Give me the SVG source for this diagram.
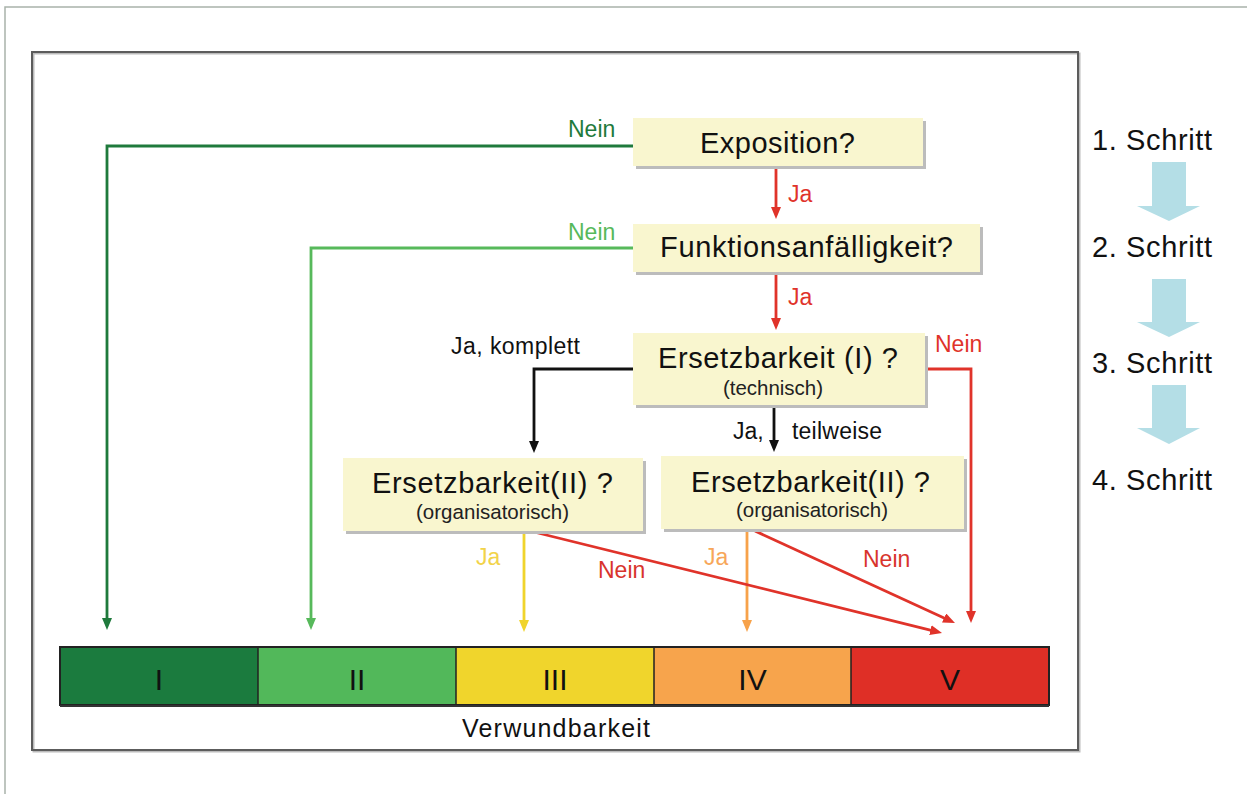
<svg xmlns="http://www.w3.org/2000/svg" width="1247" height="794" viewBox="0 0 1247 794">
<style>
text{font-family:"Liberation Sans",Arial,sans-serif;}
.box{fill:#f9f6cf;}
.sh{fill:#bcbcbc;}
.t1{font-size:29px;fill:#111;text-anchor:middle;}
.t2{font-size:20.5px;fill:#222;text-anchor:middle;}
.lb{font-size:23px;}
.c{fill:none;stroke-width:2.8;}
.step{font-size:29px;fill:#111;}
.rn{font-size:30px;fill:#111;text-anchor:middle;}
</style>
<defs>
<marker id="mDG" markerUnits="userSpaceOnUse" markerWidth="13" markerHeight="11" refX="3" refY="5" orient="auto"><path d="M0,0 L12,5 L0,10 z" fill="#1f7a3c"/></marker>
<marker id="mLG" markerUnits="userSpaceOnUse" markerWidth="13" markerHeight="11" refX="3" refY="5" orient="auto"><path d="M0,0 L12,5 L0,10 z" fill="#57b95b"/></marker>
<marker id="mR" markerUnits="userSpaceOnUse" markerWidth="13" markerHeight="11" refX="3" refY="5" orient="auto"><path d="M0,0 L12,5 L0,10 z" fill="#e0332a"/></marker>
<marker id="mK" markerUnits="userSpaceOnUse" markerWidth="13" markerHeight="11" refX="3" refY="5" orient="auto"><path d="M0,0 L12,5 L0,10 z" fill="#111"/></marker>
<marker id="mY" markerUnits="userSpaceOnUse" markerWidth="13" markerHeight="11" refX="3" refY="5" orient="auto"><path d="M0,0 L12,5 L0,10 z" fill="#f0d42c"/></marker>
<marker id="mO" markerUnits="userSpaceOnUse" markerWidth="13" markerHeight="11" refX="3" refY="5" orient="auto"><path d="M0,0 L12,5 L0,10 z" fill="#f7a24a"/></marker>
</defs>
<rect width="1247" height="794" fill="#fff"/>
<g id="outer-frame">
<path d="M5,794 V7 H1247" fill="none" stroke="#a9b3ab" stroke-width="1.5"/>
</g>
<g id="inner-frame">
<rect x="33.5" y="53.5" width="1046" height="698" fill="none" stroke="#bbb" stroke-width="2"/>
<rect x="32" y="52" width="1046" height="698" fill="none" stroke="#5c5c5c" stroke-width="2"/>
</g>
<g id="connectors">
<path class="c" d="M633,146 H107 V621" stroke="#1f7a3c" marker-end="url(#mDG)"/>
<path class="c" d="M633,248 H311 V621" stroke="#57b95b" marker-end="url(#mLG)"/>
<path class="c" d="M776,168 V210" stroke="#e0332a" marker-end="url(#mR)"/>
<path class="c" d="M776,274 V321" stroke="#e0332a" marker-end="url(#mR)"/>
<path class="c" d="M633,369 H534 V444" stroke="#111" stroke-width="3.2" marker-end="url(#mK)"/>
<path class="c" d="M774,407 V443" stroke="#111" stroke-width="3.2" marker-end="url(#mK)"/>
<path class="c" d="M925,369 H971 V614" stroke="#e0332a" marker-end="url(#mR)"/>
<path class="c" d="M524,531 V623" stroke="#f0d42c" marker-end="url(#mY)"/>
<path class="c" d="M747,530 V623" stroke="#f7a24a" marker-end="url(#mO)"/>
<path class="c" d="M530,531 L933.3,630.8" stroke="#e0332a" marker-end="url(#mR)"/>
<path class="c" d="M755,531 L946.8,619.2" stroke="#e0332a" marker-end="url(#mR)"/>
<text class="lb" x="568" y="137" fill="#1f7a3c">Nein</text>
<text class="lb" x="568" y="240" fill="#57b95b">Nein</text>
<text class="lb" x="788" y="202" fill="#e0332a">Ja</text>
<text class="lb" x="788" y="305" fill="#e0332a">Ja</text>
<text class="lb" x="451" y="354" fill="#111" font-size="22" textLength="129">Ja, komplett</text>
<text class="lb" x="935" y="352" fill="#e0332a">Nein</text>
<text class="lb" x="733" y="439" fill="#111" font-size="22">Ja,</text>
<text class="lb" x="792" y="439" fill="#111" font-size="22" textLength="90">teilweise</text>
<text class="lb" x="476" y="565" fill="#f2d34a">Ja</text>
<text class="lb" x="704" y="565" fill="#f7a75a">Ja</text>
<text class="lb" x="598" y="578" fill="#d8342c">Nein</text>
<text class="lb" x="863" y="567" fill="#d8342c">Nein</text>
</g>
<g id="n-exposition">
<rect class="sh" x="636" y="121" width="290" height="48"/>
<rect class="box" x="633" y="118" width="290" height="48"/>
<text class="t1" x="777.5" y="153" textLength="155">Exposition?</text>
</g>
<g id="n-funktion">
<rect class="sh" x="636" y="227" width="347" height="48"/>
<rect class="box" x="633" y="224" width="347" height="48"/>
<text class="t1" x="806.5" y="257" textLength="293">Funktionsanfälligkeit?</text>
</g>
<g id="n-ersetz1">
<rect class="sh" x="636" y="336" width="292" height="72"/>
<rect class="box" x="633" y="333" width="292" height="72"/>
<text class="t1" x="778" y="368" textLength="240">Ersetzbarkeit (I) ?</text>
<text class="t2" x="773" y="395" textLength="100">(technisch)</text>
</g>
<g id="n-ersetz2-left">
<rect class="sh" x="346" y="461" width="300" height="73"/>
<rect class="box" x="343" y="458" width="300" height="73"/>
<text class="t1" x="492.5" y="493" textLength="241">Ersetzbarkeit(II) ?</text>
<text class="t2" x="492.5" y="519" textLength="153">(organisatorisch)</text>
</g>
<g id="n-ersetz2-right">
<rect class="sh" x="664" y="459" width="303" height="73"/>
<rect class="box" x="661" y="456" width="303" height="73"/>
<text class="t1" x="810.5" y="492" textLength="239">Ersetzbarkeit(II) ?</text>
<text class="t2" x="812" y="517" textLength="152">(organisatorisch)</text>
</g>
<g id="scale">
<rect x="60" y="647" width="198" height="58" fill="#1b7b3e"/>
<rect x="258" y="647" width="198" height="58" fill="#52b85a"/>
<rect x="456" y="647" width="198" height="58" fill="#f0d52c"/>
<rect x="654" y="647" width="197" height="58" fill="#f7a44c"/>
<rect x="851" y="647" width="198" height="58" fill="#df2f26"/>
<path d="M258,647 V705 M456,647 V705 M654,647 V705 M851,647 V705" stroke="#222" stroke-width="1.5"/>
<rect x="60" y="647" width="989" height="58" fill="none" stroke="#222" stroke-width="2"/>
<path d="M60,706 H1049" stroke="#333" stroke-width="2"/>
<text class="rn" x="159" y="690">I</text>
<text class="rn" x="357" y="690">II</text>
<text class="rn" x="555" y="690">III</text>
<text class="rn" x="752.5" y="690">IV</text>
<text class="rn" x="950" y="690">V</text>
<text x="556" y="737" font-size="25" fill="#111" text-anchor="middle" textLength="188">Verwundbarkeit</text>
</g>
<g id="steps">
<text class="step" x="1092" y="150" textLength="120">1. Schritt</text>
<text class="step" x="1092" y="257" textLength="120">2. Schritt</text>
<text class="step" x="1092" y="373" textLength="120">3. Schritt</text>
<text class="step" x="1092" y="490" textLength="120">4. Schritt</text>
<path d="M1152,162 H1186 V206 H1200 L1169,221 L1137,206 H1152 z" fill="#b4dee6"/>
<path d="M1152,279 H1186 V322 H1200 L1169,337 L1137,322 H1152 z" fill="#b4dee6"/>
<path d="M1152,385 H1186 V428 H1200 L1169,444 L1137,428 H1152 z" fill="#b4dee6"/>
</g>
</svg>
